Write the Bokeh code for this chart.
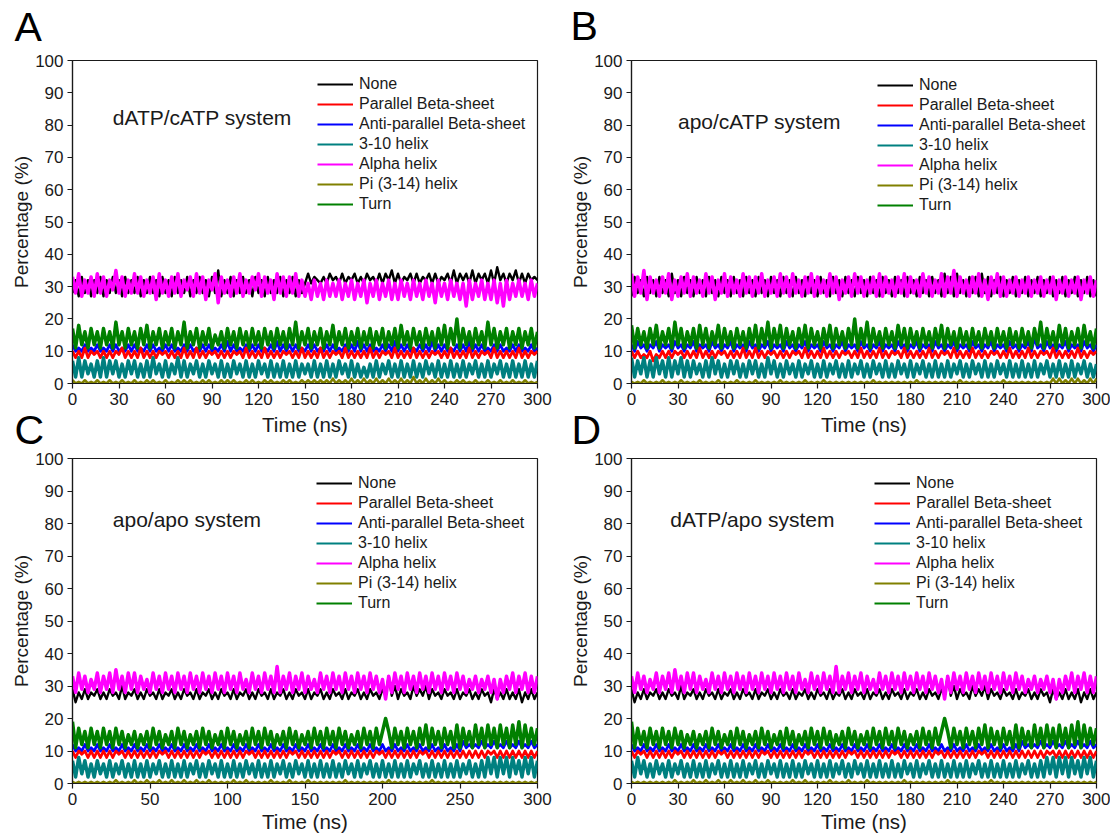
from bokeh.plotting import figure
from bokeh.models import Range1d, Label, Legend, LegendItem, FixedTicker
from bokeh.layouts import column, row
from bokeh.embed import file_html
from bokeh.resources import INLINE

# ---------------- data ----------------
time_ns = list(range(0, 301, 2))          # sampling grid (ns)
x_ticks_30 = [0, 30, 60, 90, 120, 150, 180, 210, 240, 270, 300]
x_ticks_50 = [0, 50, 100, 150, 200, 250, 300]
y_ticks = [0, 10, 20, 30, 40, 50, 60, 70, 80, 90, 100]

series_labels = ["None", "Parallel Beta-sheet", "Anti-parallel Beta-sheet",
                 "3-10 helix", "Alpha helix", "Pi (3-14) helix", "Turn"]
series_colors = ["#000000", "#FF0000", "#0000FF", "#008080", "#FF00FF", "#808000", "#008000"]
panel_letters = ["A", "B", "C", "D"]
system_names = ["dATP/cATP system", "apo/cATP system", "apo/apo system", "dATP/apo system"]

# Panel A : dATP/cATP system
none_A = [28,32,27,33,28,32,27,32,28,33, 27,32,28,33,28,32,27,33,28,32,
          28,33,27,32,28,33,28,32,27,33, 28,32,27,33,28,32,28,33,27,32,
          28,33,28,32,27,33,28,35,27,32, 28,33,27,32,28,33,28,32,27,33,
          28,32,27,33,28,32,28,33,27,32, 28,33,27,32,28,31,34,31,33,32,
          31,33,31,34,32,33,31,34,31,33, 32,34,31,33,31,34,32,33,31,34,
          31,34,32,35,31,34,31,33,32,34, 31,34,31,33,32,34,31,34,31,33,
          32,34,31,35,31,34,32,34,31,35, 31,34,32,34,31,35,31,36,32,34,
          31,34,32,35,31,34,31,34,32,33, 32]
par_A = [10,8,10,8,11,8,10,9,10,8, 10,8,10,8,10,9,11,8,10,8,
         10,8,11,8,10,8,10,8,10,9, 10,8,10,8,10,8,11,8,10,8,
         11,8,10,8,10,9,10,8,10,8, 10,8,10,9,10,8,11,8,10,8,
         10,8,11,8,10,8,10,8,10,9, 10,8,10,8,11,8,10,8,10,8,
         11,8,10,8,10,9,10,8,11,8, 10,8,10,8,10,8,11,8,10,8,
         10,9,10,8,11,8,10,8,10,8, 11,8,10,8,10,8,10,9,10,8,
         10,8,11,8,10,8,10,8,11,8, 10,8,10,9,10,8,11,8,10,8,
         10,8,10,8,11,8,10,8,10,9, 10]
anti_A = [12,10,11,10,12,10,11,10,12,10, 11,10,12,10,12,10,11,10,12,10,
          12,10,11,10,12,10,12,10,11,10, 12,10,12,10,11,10,12,10,12,10,
          11,10,12,10,12,10,11,10,12,10, 13,10,12,10,11,10,12,10,12,10,
          12,10,11,10,12,10,13,10,12,10, 12,10,12,10,11,10,12,10,12,10,
          11,10,12,10,12,10,11,10,12,10, 12,10,13,10,12,10,12,10,11,10,
          12,10,12,10,13,10,12,10,12,10, 11,10,12,10,12,10,13,10,12,10,
          12,10,11,10,12,10,12,10,13,10, 12,10,12,10,11,10,12,10,12,10,
          11,10,12,10,12,10,11,10,12,10, 11]
h310_A = [7,2,8,2,7,3,6,2,7,2, 8,2,7,3,7,2,6,2,7,3,
          7,2,6,2,7,2,8,3,6,2, 7,2,6,3,8,2,7,2,6,3,
          7,2,6,2,7,3,6,2,7,2, 6,2,7,3,6,2,7,2,6,2,
          7,3,6,2,7,2,6,2,7,2, 6,2,7,2,6,3,6,2,7,2,
          6,2,7,2,6,2,7,3,6,2, 7,2,6,2,5,2,6,2,7,2,
          6,3,7,2,6,2,7,2,6,2, 7,2,6,2,7,3,6,2,7,2,
          6,2,7,2,6,2,7,2,6,3, 7,2,6,2,7,2,6,3,7,2,
          6,2,7,2,6,2,7,2,6,2, 7]
alpha_A = [33,28,34,27,32,28,33,27,34,28, 33,27,32,29,35,28,33,27,32,28,
           34,28,33,27,32,28,33,26,34,28, 32,27,33,28,34,27,32,29,33,27,
           34,28,33,26,32,29,34,25,33,28, 32,27,33,28,34,27,32,28,33,29,
           34,27,33,28,32,26,34,28,33,27, 33,28,34,27,32,27,31,26,32,27,
           31,26,32,27,31,27,32,26,31,27, 32,26,31,27,32,25,31,27,32,26,
           31,27,32,26,31,26,32,27,31,26, 32,27,31,26,32,27,31,25,32,27,
           31,26,32,27,31,26,31,24,32,26, 31,27,32,26,31,26,32,25,31,24,
           32,26,31,27,32,27,31,26,32,27, 31]
pi_A = [1,0,0.5,0,1,0,0.5,0,1,0, 0.5,0,1,0,0.5,0,1,0,0.5,0,
        1,0,0.5,0,1,0,1,0,0.5,0, 1,0,0.5,0,1,0,1,0,1,0,
        0.5,0,1,0,1,0,0.5,0,1,0, 1,0,1,0,0.5,0,1,0,1,0,
        0.5,0,1,0,1,0,0.5,0,1,0, 1,0,0.5,0,1,0,1,0,1,0,
        1,0,1,0,1.5,0,1,0,1,0, 1.5,0,1,0,1.5,0,1,0,1.5,0,
        1,0,1.5,0,1,0,1.5,0,1,0, 2,0,1,0,1.5,0,1,0,1.5,0,
        1,0,0.5,0,1,0,1,0,0.5,0, 1,0,0.5,0,1,0,0.5,0,1,0,
        0.5,0,1,0,0.5,0,1,0,0.5,0, 0.5]
turn_A = [17,11,18,12,16,11,17,12,16,11, 17,12,16,11,19,12,16,11,17,12,
          16,11,17,12,18,11,16,12,17,11, 16,12,17,11,16,12,19,11,16,12,
          17,11,16,12,17,11,15,12,16,11, 17,12,16,11,17,12,16,11,17,12,
          16,11,17,12,16,11,17,12,16,11, 17,12,19,11,16,12,17,11,16,12,
          17,11,16,12,18,11,16,12,17,11, 16,12,17,11,16,12,17,11,16,12,
          17,11,16,12,17,11,18,12,16,11, 17,12,16,11,17,12,16,11,17,12,
          18,11,17,12,20,11,17,12,16,11, 17,12,16,11,19,12,17,11,16,12,
          17,11,16,12,17,11,16,12,17,11, 16]

# Panel B : apo/cATP system
none_B = [27,33,28,32,27,33,28,32,27,33, 28,32,27,34,28,32,27,33,28,32,
          27,33,28,32,27,33,28,32,27,33, 28,32,27,33,28,32,27,33,28,32,
          27,33,28,32,27,33,28,32,27,33, 28,32,27,33,28,32,27,33,28,32,
          27,33,28,32,27,33,28,32,27,33, 28,32,27,33,28,32,27,33,28,32,
          27,33,28,32,27,33,28,32,27,33, 28,32,27,33,28,32,27,33,28,32,
          27,34,28,33,27,34,28,32,27,33, 28,33,27,34,28,33,27,32,28,33,
          27,32,28,33,27,32,28,33,27,32, 28,33,27,32,28,33,27,32,28,33,
          27,32,28,33,27,32,28,33,27,32, 27]
par_B = [10,8,10,8,9,8,10,7,9,8, 10,8,10,8,10,9,10,8,10,8,
         10,8,11,8,10,8,10,8,10,9, 10,8,10,8,10,8,11,8,10,8,
         11,8,10,8,10,9,10,8,10,8, 10,8,10,9,10,8,11,8,10,8,
         10,8,11,8,10,8,10,8,10,9, 10,8,10,8,11,8,10,8,10,8,
         11,8,10,8,10,9,10,8,11,8, 10,8,10,8,10,8,11,8,10,8,
         10,9,10,8,11,8,10,8,10,8, 11,8,10,8,10,8,10,9,10,8,
         10,8,11,8,10,8,10,8,11,8, 10,8,10,9,10,8,11,8,10,8,
         10,8,10,8,11,8,10,8,10,9, 10]
anti_B = [12,10,13,11,12,10,12,11,13,10, 12,11,12,10,13,11,12,10,12,11,
          13,10,12,11,12,10,13,11,12,10, 12,11,13,10,12,11,12,10,13,11,
          12,10,12,11,13,10,12,11,12,10, 13,11,12,10,12,11,13,10,12,11,
          12,10,13,11,12,10,12,11,13,10, 12,11,12,10,13,11,12,10,12,11,
          13,10,12,11,12,10,13,11,12,10, 12,11,13,10,12,11,12,10,13,11,
          12,10,12,11,13,10,12,11,12,10, 13,11,12,10,12,11,13,10,12,11,
          12,10,13,11,12,10,12,11,13,10, 14,11,12,10,13,11,12,10,12,11,
          13,10,12,11,12,10,13,11,12,10, 12]
h310_B = [8,2,7,3,8,2,7,2,8,3, 7,2,8,2,7,3,8,2,7,2,
          7,3,6,2,7,2,8,3,7,2, 6,2,7,3,7,2,6,2,7,3,
          7,2,6,2,8,3,7,2,6,2, 7,3,6,2,7,2,6,3,7,2,
          6,2,7,2,6,3,7,2,6,2, 7,2,6,3,7,2,6,2,7,3,
          6,2,7,2,6,2,7,3,6,2, 7,2,6,3,7,2,6,2,7,2,
          6,2,7,2,6,3,7,2,6,2, 7,3,6,2,7,2,6,2,7,3,
          6,2,7,2,6,2,7,2,6,2, 7,2,6,3,7,2,6,2,7,2,
          6,2,7,2,6,3,7,2,6,2, 6]
alpha_B = [34,27,33,28,35,26,33,28,32,27, 33,28,34,26,32,27,33,28,34,27,
           33,28,32,27,34,28,33,26,32,28, 34,27,33,28,32,27,34,28,33,27,
           33,28,34,27,32,28,33,27,34,28, 33,27,34,28,32,27,33,28,34,27,
           33,28,32,27,34,28,33,26,32,28, 33,27,34,28,33,27,32,28,33,27,
           34,27,33,28,32,27,33,28,34,27, 33,28,32,27,34,28,33,27,32,28,
           34,27,33,28,35,27,33,28,32,27, 33,28,34,27,32,26,33,28,34,27,
           33,27,32,28,33,27,32,28,33,27, 32,28,33,27,32,28,33,26,32,28,
           33,27,32,28,33,26,32,28,33,27, 32]
pi_B = [0.5,0,0.5,0,1,0,0.5,0,0.5,0, 1,0,0.5,0,0.5,0,1,0,0.5,0,
        0.5,0,1,0,0.5,0,0.5,0,1,0, 0.5,0,0.5,0,1,0,0.5,0,0.5,0,
        1,0,0.5,0,0.5,0,0.5,0,1,0, 0.5,0,0.5,0,0.5,0,1,0,0.5,0,
        0.5,0,1,0,0.5,0,0.5,0,0.5,0, 0.5,0,0.5,0,0.5,0,0.5,0,1,0,
        0.5,0,0.5,0,0.5,0,0.5,0,0.5,0, 0.5,0,1,0,0.5,0,0.5,0,0.5,0,
        0.5,0,0.5,0,0.5,0,1,0,0.5,0, 0.5,0,0.5,0,0.5,0,0.5,0,0.5,0,
        1,0,0.5,0,0.5,0,0.5,0,0.5,0, 0.5,0,0.5,0,0.5,0,1.5,0,1.5,0,
        1,0,1.5,0,1.5,0,1,0,1.5,0, 1.5]
turn_B = [18,11,17,12,16,11,17,12,18,11, 16,12,17,11,19,12,17,11,16,12,
          17,11,18,12,17,11,16,12,18,11, 17,12,16,11,17,12,16,11,17,12,
          18,11,17,12,19,11,17,12,18,11, 17,12,16,11,17,12,18,11,17,12,
          16,11,17,12,18,11,17,12,16,11, 17,12,20,11,17,12,19,11,17,12,
          16,11,17,12,16,11,18,12,17,11, 17,12,16,11,17,12,16,11,17,12,
          18,11,17,12,16,11,17,12,16,11, 17,12,16,11,17,12,16,11,17,12,
          16,11,17,12,16,11,17,12,16,11, 17,12,19,11,17,12,16,11,18,12,
          17,11,16,12,17,11,18,12,16,11, 17]

# Panels C and D : apo/apo system and dATP/apo system (identical traces)
none_C = [29,25,28,26,29,26,28,27,29,26, 28,26,29,27,28,26,30,26,28,27,
          29,26,28,26,29,27,28,26,29,26, 28,27,29,26,28,26,29,27,28,26,
          29,26,28,27,29,26,28,26,29,27, 28,26,29,26,28,27,29,26,28,26,
          29,27,28,26,29,26,28,27,29,26, 28,26,29,27,28,26,29,26,28,27,
          29,26,28,26,29,27,28,26,29,26, 28,27,29,26,28,26,29,27,28,26,
          29,27,33,27,30,26,29,27,28,26, 30,27,29,27,30,26,29,27,28,26,
          29,27,28,26,29,26,28,27,29,26, 28,26,29,27,28,25,29,26,28,26,
          29,26,28,26,29,25,28,26,29,26, 28]
par_C = [10,8,10,9,10,8,10,8,10,8, 10,8,10,8,10,9,10,8,10,8,
         10,8,10,8,10,8,10,8,10,9, 10,8,10,8,10,8,10,8,10,8,
         10,8,10,9,10,8,10,8,10,8, 10,8,10,8,10,8,10,9,10,8,
         10,8,10,8,10,8,10,8,10,8, 10,9,10,8,10,8,10,8,10,8,
         10,8,10,8,10,9,10,8,10,8, 10,8,10,8,10,8,10,8,10,9,
         10,8,10,8,10,8,10,8,10,8, 10,8,10,9,10,8,10,8,10,8,
         10,8,10,8,10,8,10,8,10,8, 10,8,10,8,10,9,10,8,10,8,
         10,8,10,8,10,8,10,8,10,8, 10]
anti_C = [12,10,11,10,12,10,11,10,12,10, 11,10,12,10,11,10,12,10,11,10,
          12,10,11,10,12,10,11,10,12,10, 11,10,12,10,11,10,12,10,11,10,
          12,10,11,10,12,10,11,10,12,10, 11,10,12,10,11,10,12,10,11,10,
          12,10,11,10,12,10,11,10,12,10, 11,10,12,10,11,10,12,10,11,10,
          12,10,11,10,12,10,11,10,12,10, 11,10,12,10,11,10,12,10,11,10,
          12,10,11,10,12,10,11,10,12,10, 11,10,12,10,11,10,12,10,11,10,
          12,10,11,10,12,10,13,11,12,11, 12,11,13,11,12,11,13,11,12,11,
          13,11,12,11,13,11,12,11,13,11, 12]
h310_C = [7,2,8,3,7,2,6,2,7,3, 6,2,7,2,6,3,7,2,6,2,
          7,2,6,2,7,2,6,3,7,2, 6,2,7,2,6,2,7,2,6,3,
          7,2,6,2,7,3,6,2,7,2, 6,2,7,2,6,2,7,3,6,2,
          7,2,6,2,7,2,6,3,7,2, 6,2,7,3,6,2,7,2,6,2,
          7,2,6,2,7,2,6,2,7,3, 6,2,7,2,6,3,7,2,6,2,
          7,2,6,2,7,2,6,2,7,2, 6,3,7,2,6,2,7,2,6,2,
          7,2,6,2,7,2,6,3,7,2, 6,2,7,2,8,3,8,2,8,3,
          8,2,8,3,7,2,8,3,8,2, 7]
alpha_C = [33,28,34,29,33,28,32,29,34,28, 33,29,34,28,35,29,33,28,34,29,
           34,28,33,29,32,28,34,29,33,28, 34,29,33,28,34,29,33,28,34,29,
           33,28,34,29,33,28,34,29,33,28, 34,29,33,28,34,29,32,28,34,29,
           33,28,34,29,33,28,36,28,33,29, 34,28,33,29,34,28,33,29,32,28,
           34,29,33,28,34,29,33,28,34,29, 33,28,34,29,33,28,34,29,33,28,
           32,26,33,28,34,29,33,28,34,29, 33,28,34,29,33,28,34,29,33,28,
           34,29,33,28,34,29,33,28,32,29, 33,28,32,29,33,28,32,26,32,28,
           33,29,34,28,33,29,34,28,33,28, 33]
pi_C = [0.5,0,0.5,0,0.5,0,0.5,0,0.5,0, 0.5,0,0.5,0,1,0,0.5,0,0.5,0,
        1,0,0.5,0,1,0,0.5,0,1,0, 0.5,0,1,0,0.5,0,1,0,0.5,0,
        1,0,0.5,0,1,0,0.5,0,0.5,0, 0.5,0,1,0,0.5,0,1,0,0.5,0,
        0.5,0,0.5,0,1,0,0.5,0,0.5,0, 1,0,0.5,0,0.5,0,1,0,0.5,0,
        0.5,0,0.5,0,0.5,0,0.5,0,1,0, 0.5,0,0.5,0,0.5,0,0.5,0,0.5,0,
        0.5,0,1,0,0.5,0,0.5,0,0.5,0, 0.5,0,0.5,0,0.5,0,1,0,0.5,0,
        0.5,0,0.5,0,0.5,0,0.5,0,0.5,0, 0.5,0,0.5,0,0.5,0,0.5,0,0.5,0,
        0.5,0,0.5,0,0.5,0,0.5,0,0.5,0, 0.5]
turn_C = [19,11,17,12,16,11,17,12,16,11, 17,12,16,11,17,12,16,11,15,12,
          16,11,15,12,16,11,17,12,16,11, 15,12,16,11,17,12,16,11,15,12,
          16,11,17,12,16,11,15,12,16,11, 17,12,16,11,15,12,16,11,17,12,
          16,11,17,12,16,11,15,12,16,11, 17,12,16,11,15,12,16,11,17,12,
          16,11,17,12,16,11,17,12,16,11, 15,12,16,11,17,12,16,11,17,12,
          16,20,16,11,17,12,16,11,17,12, 16,11,17,12,18,11,17,12,16,11,
          17,12,16,11,18,11,17,12,16,11, 18,12,17,11,18,12,17,11,18,12,
          17,11,18,12,19,11,18,12,17,12, 17]

data_A = [none_A, par_A, anti_A, h310_A, alpha_A, pi_A, turn_A]
data_B = [none_B, par_B, anti_B, h310_B, alpha_B, pi_B, turn_B]
data_C = [none_C, par_C, anti_C, h310_C, alpha_C, pi_C, turn_C]

FONT = "Liberation Sans"
TXT = "#1a1a1a"
draw_order = [0, 2, 1, 3, 4, 5, 6]
line_widths = [2.4, 2.8, 2.8, 3.5, 3.5, 2.6, 3.5]


def strip(width, height):
    s = figure(width=width, height=height, output_backend="svg", toolbar_location=None,
               x_range=Range1d(0, width), y_range=Range1d(height, 0),
               min_border=0, x_axis_location=None, y_axis_location=None)
    s.grid.visible = False
    s.outline_line_color = None
    return s


def strip_text(s, x, y, text, size, align="left", color=TXT):
    s.add_layout(Label(x=x, y=y, text=text, text_font=FONT, text_font_size=size,
                       text_color=color, text_align=align, text_baseline="middle"))


def make_panel(data, xticks, system_text, sys_x, sys_y, width, height,
               bl, br, bt, bb, legend_xy, xlabel):
    p = figure(width=width, height=height, output_backend="svg", toolbar_location=None,
               x_range=Range1d(0, 300), y_range=Range1d(0, 100),
               min_border_left=bl, min_border_right=br, min_border_top=bt, min_border_bottom=bb)
    p.xgrid.visible = False
    p.ygrid.visible = False
    p.outline_line_color = TXT
    p.outline_line_width = 1.2

    for ax, ticks in ((p.xaxis[0], xticks), (p.yaxis[0], y_ticks)):
        ax.ticker = FixedTicker(ticks=ticks, minor_ticks=[])
        ax.axis_line_color = TXT
        ax.axis_line_width = 1.2
        ax.major_tick_line_color = TXT
        ax.major_tick_line_width = 1.2
        ax.major_tick_in = 0
        ax.major_tick_out = 5
        ax.minor_tick_line_color = None
        ax.major_label_text_font = FONT
        ax.major_label_text_font_size = "17px"
        ax.major_label_text_color = TXT
        ax.axis_label_text_font = FONT
        ax.axis_label_text_font_style = "normal"
        ax.axis_label_text_color = TXT
    if xlabel:
        p.xaxis.axis_label = xlabel
        p.xaxis.axis_label_text_font_size = "20.5px"
        p.xaxis.axis_label_standoff = 2
    p.xaxis.major_label_standoff = 4
    p.yaxis.axis_label = "Percentage (%)"
    p.yaxis.axis_label_text_font_size = "19px"
    p.yaxis.major_label_standoff = 4
    p.yaxis.axis_label_standoff = 0

    for i in draw_order:
        vals = data[i]
        p.line(time_ns[:len(vals)], vals, line_color=series_colors[i],
               line_width=line_widths[i], line_join="round")

    items = []
    for i, lab in enumerate(series_labels):
        proxy = p.line(time_ns[:1], data[i][:1], line_color=series_colors[i], line_width=2)
        items.append(LegendItem(label=lab, renderers=[proxy]))
    leg = Legend(items=items, location=legend_xy, padding=0, margin=0, spacing=0,
                 label_height=20, glyph_height=20, glyph_width=36, label_standoff=6,
                 border_line_color=None, background_fill_alpha=0,
                 label_text_font=FONT, label_text_font_size="16px",
                 label_text_color=TXT)
    p.add_layout(leg)

    p.add_layout(Label(x=sys_x, y=sys_y, text=system_text, text_font=FONT,
                       text_font_size="21px", text_color=TXT, text_baseline="middle"))
    return p


# top strip: panel letters A and B
top = strip(1110, 50)
strip_text(top, 14, 26.5, panel_letters[0], "41px", color="black")
strip_text(top, 570, 25.5, panel_letters[1], "41px", color="black")

pA = make_panel(data_A, x_ticks_30, system_names[0], 26, 82.4, 560, 361, 72, 23, 10, 28, (245, 169), None)
pB = make_panel(data_B, x_ticks_30, system_names[1], 30, 81.1, 550, 361, 71, 14, 10, 28, (246, 168), None)

# middle strip: x-axis titles of A/B and panel letters C and D
mid = strip(1110, 37)
strip_text(mid, 304.5, 13, "Time (ns)", "20.5px", align="center")
strip_text(mid, 863.5, 13, "Time (ns)", "20.5px", align="center")
strip_text(mid, 14, 18, panel_letters[2], "41px", color="black")
strip_text(mid, 571, 18, panel_letters[3], "41px", color="black")

pC = make_panel(data_C, x_ticks_50, system_names[2], 26, 81.2, 560, 390, 72, 23, 10, 55, (244, 170), "Time (ns)")
pD = make_panel(data_C, x_ticks_30, system_names[3], 25, 81.2, 550, 390, 71, 14, 10, 55, (243, 170), "Time (ns)")

layout = column(top, row(pA, pB), mid, row(pC, pD))
open("out.html", "w").write(file_html(layout, INLINE))
